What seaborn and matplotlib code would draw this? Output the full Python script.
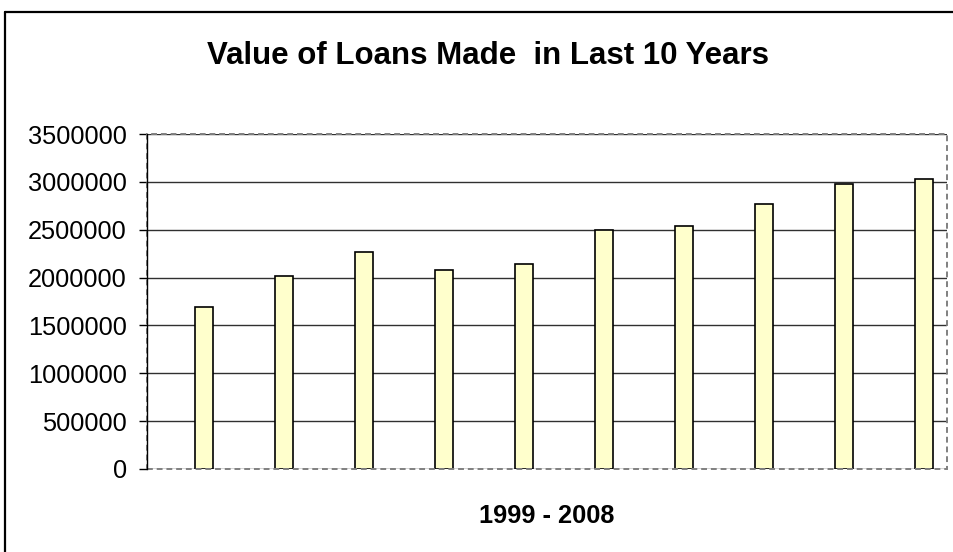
import matplotlib
matplotlib.use("Agg")
import matplotlib.pyplot as plt
import seaborn as sns
import pandas as pd
from matplotlib.lines import Line2D
from matplotlib.patches import Rectangle

years = ["1999", "2000", "2001", "2002", "2003", "2004", "2005", "2006", "2007", "2008"]
values = [1690000, 2020000, 2265000, 2080000, 2140000, 2500000, 2540000, 2770000, 2975000, 3025000]
yticks = [0, 500000, 1000000, 1500000, 2000000, 2500000, 3000000, 3500000]
title = "Value of Loans Made  in Last 10 Years"
xlabel = "1999 - 2008"

sns.set_theme(style="white")
plt.rcParams["font.family"] = ["Liberation Sans", "DejaVu Sans"]
plt.rcParams["text.color"] = "black"
plt.rcParams["ytick.color"] = "black"
plt.rcParams["ytick.labelcolor"] = "black"

W, H = 954, 552
fig = plt.figure(figsize=(W / 100, H / 100), dpi=100)
fig.patch.set_facecolor("white")

L, R, T, B = 147, 947, 134, 469
ax = fig.add_axes([L / W, 1 - B / H, (R - L) / W, (B - T) / H])

df = pd.DataFrame({"year": years, "value": values})
sns.barplot(data=df, x="year", y="value", ax=ax, color="#FFFFCC", width=0.225,
            edgecolor="black", linewidth=1.2, saturation=1, zorder=3)

ax.set_xlim(-0.7125, 9.2875)
ax.set_ylim(0, 3500000)
ax.set_yticks(yticks)
ax.set_yticklabels([str(v) for v in yticks], fontsize=18.3, color="black")
ax.set_xticks([])
ax.set_xlabel("")
ax.set_ylabel("")
ax.tick_params(axis="y", direction="out", length=6, width=1, color="black", pad=8.5, left=True)

ax.yaxis.grid(True, color="#303030", linewidth=1.0, linestyle="-", zorder=1)
ax.set_axisbelow(True)

for s in ["top", "right", "bottom"]:
    ax.spines[s].set_visible(False)
ax.spines["left"].set_visible(True)
ax.spines["left"].set_color("black")
ax.spines["left"].set_linewidth(1.0)
ax.spines["left"].set_zorder(5)

# dashed plot-area border
border = Rectangle((0, 0), 1, 1, transform=ax.transAxes, fill=False,
                   edgecolor="#808080", linewidth=1.4, linestyle=(0, (3, 2)),
                   clip_on=False, zorder=4)
ax.add_patch(border)

# titles
fig.text(488.5 / W, 1 - 64 / H, title, ha="center", va="baseline",
         fontsize=22.5, fontweight="bold", color="black")
fig.text(547 / W, 1 - 523 / H, xlabel, ha="center", va="baseline",
         fontsize=18.3, fontweight="bold", color="black")

# outer chart border
fig.add_artist(Line2D([5 / W, 5 / W], [1 - 12 / H, 0], transform=fig.transFigure,
                      color="black", linewidth=1.6))
fig.add_artist(Line2D([5 / W, 1], [1 - 12 / H, 1 - 12 / H], transform=fig.transFigure,
                      color="black", linewidth=1.6))

fig.savefig("out.png", dpi=100)
